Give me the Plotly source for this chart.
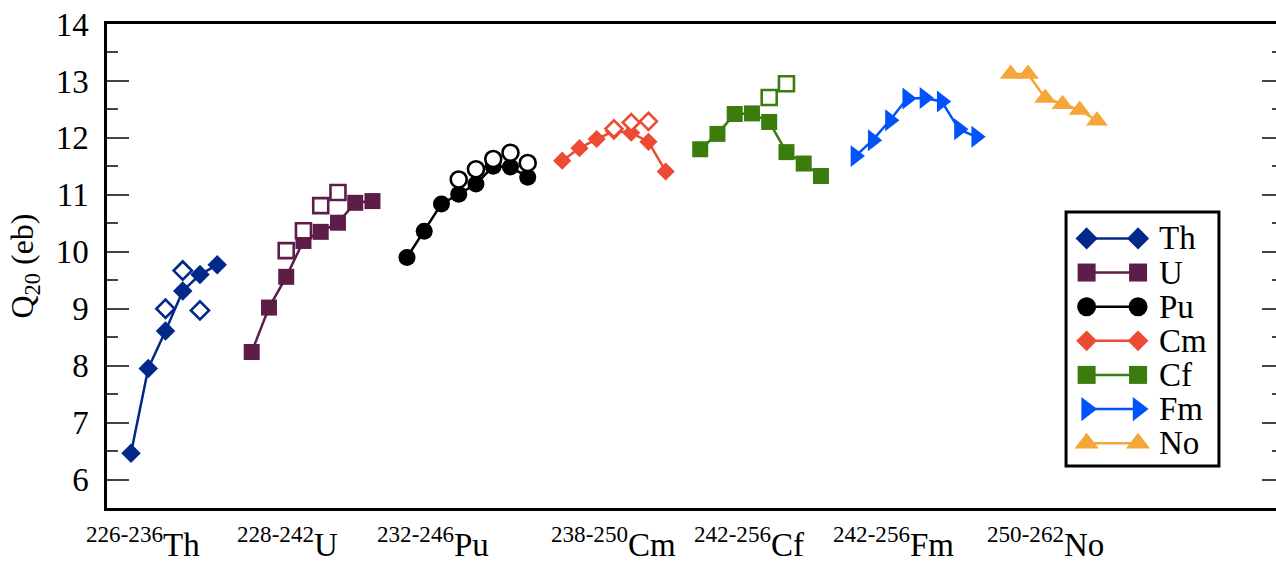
import plotly.graph_objects as go

# Quadrupole moments Q20 (eb) along isotopic chains (even-even nuclei)
elements = ["Th", "U", "Pu", "Cm", "Cf", "Fm", "No"]
mass_ranges = ["226-236", "228-242", "232-246", "238-250", "242-256", "242-256", "250-262"]
first_mass = [226, 228, 232, 238, 242, 242, 250]
# slot where each chain starts on the horizontal axis (one empty slot between chains)
chain_start_slot = [0, 7, 16, 25, 33, 42, 51]
# horizontal slot of the chain label (superscript range + symbol)
label_slot = [0.7, 9.1, 17.5, 28.0, 35.8, 44.2, 53.0]

th_q20 = [6.46, 7.95, 8.61, 9.31, 9.60, 9.77]
u_q20 = [8.24, 9.02, 9.56, 10.19, 10.35, 10.51, 10.86, 10.89]
pu_q20 = [9.90, 10.36, 10.84, 11.01, 11.19, 11.50, 11.49, 11.31]
cm_q20 = [11.60, 11.82, 11.98, 12.12, 12.09, 11.93, 11.41]
cf_q20 = [11.80, 12.07, 12.42, 12.43, 12.28, 11.75, 11.55, 11.33]
fm_q20 = [11.68, 11.96, 12.31, 12.69, 12.70, 12.64, 12.15, 12.02]
no_q20 = [13.12, 13.12, 12.70, 12.59, 12.49, 12.30]
chain_q20 = [th_q20, u_q20, pu_q20, cm_q20, cf_q20, fm_q20, no_q20]

# second set of values (open symbols): mass numbers and Q20
th_open_A = [230, 232, 234]
th_open_q20 = [9.00, 9.67, 8.97]
u_open_A = [232, 234, 236, 238]
u_open_q20 = [10.02, 10.37, 10.81, 11.04]
pu_open_A = [238, 240, 242, 244, 246]
pu_open_q20 = [11.27, 11.45, 11.63, 11.74, 11.56]
cm_open_A = [244, 246, 248]
cm_open_q20 = [12.16, 12.27, 12.29]
cf_open_A = [250, 252]
cf_open_q20 = [12.71, 12.95]
open_sets = {
    "Th": (th_open_A, th_open_q20),
    "U": (u_open_A, u_open_q20),
    "Pu": (pu_open_A, pu_open_q20),
    "Cm": (cm_open_A, cm_open_q20),
    "Cf": (cf_open_A, cf_open_q20),
}

colors = ["#022989", "#5c1d48", "#000000", "#ec4a33", "#3b7d0c", "#0052fb", "#f4a638"]
symbols = ["diamond", "square", "circle", "diamond", "square", "triangle-right", "triangle-up"]
sizes = [15, 16, 17, 14, 16, 19, 19]

FONT = "Liberation Serif, Times New Roman, serif"


def slot_of(i, A):
    return chain_start_slot[i] + (A - first_mass[i]) / 2


fig = go.Figure()

for i, el in enumerate(elements):
    q = chain_q20[i]
    xs = [slot_of(i, first_mass[i] + 2 * k) for k in range(len(q))]
    fig.add_trace(go.Scatter(
        x=xs, y=q, mode="lines+markers", name=el, showlegend=False,
        line=dict(color=colors[i], width=2.5),
        marker=dict(symbol=symbols[i], size=sizes[i], color=colors[i]),
    ))

for i, el in enumerate(elements):
    if el not in open_sets:
        continue
    A, q = open_sets[el]
    fig.add_trace(go.Scatter(
        x=[slot_of(i, a) for a in A], y=q, mode="markers", showlegend=False,
        marker=dict(symbol=symbols[i], size=sizes[i] - 1, color="white",
                    line=dict(color=colors[i], width=2.6)),
    ))

# carrier for the right-hand tick axis
fig.add_trace(go.Scatter(x=[None], y=[None], yaxis="y2", showlegend=False,
                         hoverinfo="skip"))

# legend keys: line with a symbol at each end, in plot-fraction coordinates
key_x = [0.838, 0.882]
row_y0, row_step = 0.557, 0.0705
for i, el in enumerate(elements):
    ry = row_y0 - i * row_step
    fig.add_trace(go.Scatter(
        x=key_x, y=[ry, ry], xaxis="x2", yaxis="y3", mode="lines+markers",
        showlegend=False, hoverinfo="skip",
        line=dict(color=colors[i], width=2.5),
        marker=dict(symbol=symbols[i], size=sizes[i] + 2, color=colors[i]),
    ))
    fig.add_annotation(x=0.898, y=ry, xref="paper", yref="paper", text=el,
                       showarrow=False, xanchor="left", yanchor="middle",
                       font=dict(family=FONT, size=33, color="black"))

fig.add_shape(type="rect", xref="paper", yref="paper",
              x0=0.8204, x1=0.9512, y0=0.0868, y1=0.6116,
              line=dict(color="black", width=3), fillcolor="white", layer="below")

# chain labels under the axis
for i, el in enumerate(elements):
    fig.add_annotation(x=label_slot[i], y=-0.118, xref="x", yref="paper",
                       text=f"<sup>{mass_ranges[i]}</sup>{el}", showarrow=False,
                       xanchor="center", yanchor="bottom",
                       font=dict(family=FONT, size=33, color="black"))

yrange = [5.5, 14]
fig.update_layout(
    width=1276, height=562,
    margin=dict(l=107, r=0, t=24, b=54),
    paper_bgcolor="white", plot_bgcolor="white",
    font=dict(family=FONT, color="black"),
    xaxis=dict(range=[-1.39, 66.38], showticklabels=False, ticks="",
               showgrid=False, zeroline=False, showline=True,
               linecolor="black", linewidth=2.5, mirror=True),
    xaxis2=dict(range=[0, 1], overlaying="x", visible=False),
    yaxis=dict(range=yrange, tick0=6, dtick=1, ticks="inside", ticklen=22,
               tickwidth=1.5, tickcolor="#444", showgrid=False, zeroline=False,
               showline=True, linecolor="black", linewidth=2.5,
               tickfont=dict(family=FONT, size=33, color="black"),
               ticklabelstandoff=9,
               minor=dict(dtick=0.5, ticks="inside", ticklen=11, tickwidth=1.5,
                          tickcolor="#444", showgrid=False),
               title=dict(text="Q<sub>20</sub> (eb)", standoff=13,
                          font=dict(family=FONT, size=32, color="black"))),
    yaxis2=dict(range=yrange, overlaying="y", side="right", tick0=6, dtick=1,
                ticks="inside", ticklen=14, tickwidth=1.5, tickcolor="#444",
                showticklabels=False, showgrid=False, zeroline=False,
                showline=False,
                minor=dict(dtick=0.5, ticks="inside", ticklen=4, tickwidth=1.5,
                           tickcolor="#444", showgrid=False)),
    yaxis3=dict(range=[0, 1], overlaying="y", visible=False),
)

fig.write_html("out.html")
